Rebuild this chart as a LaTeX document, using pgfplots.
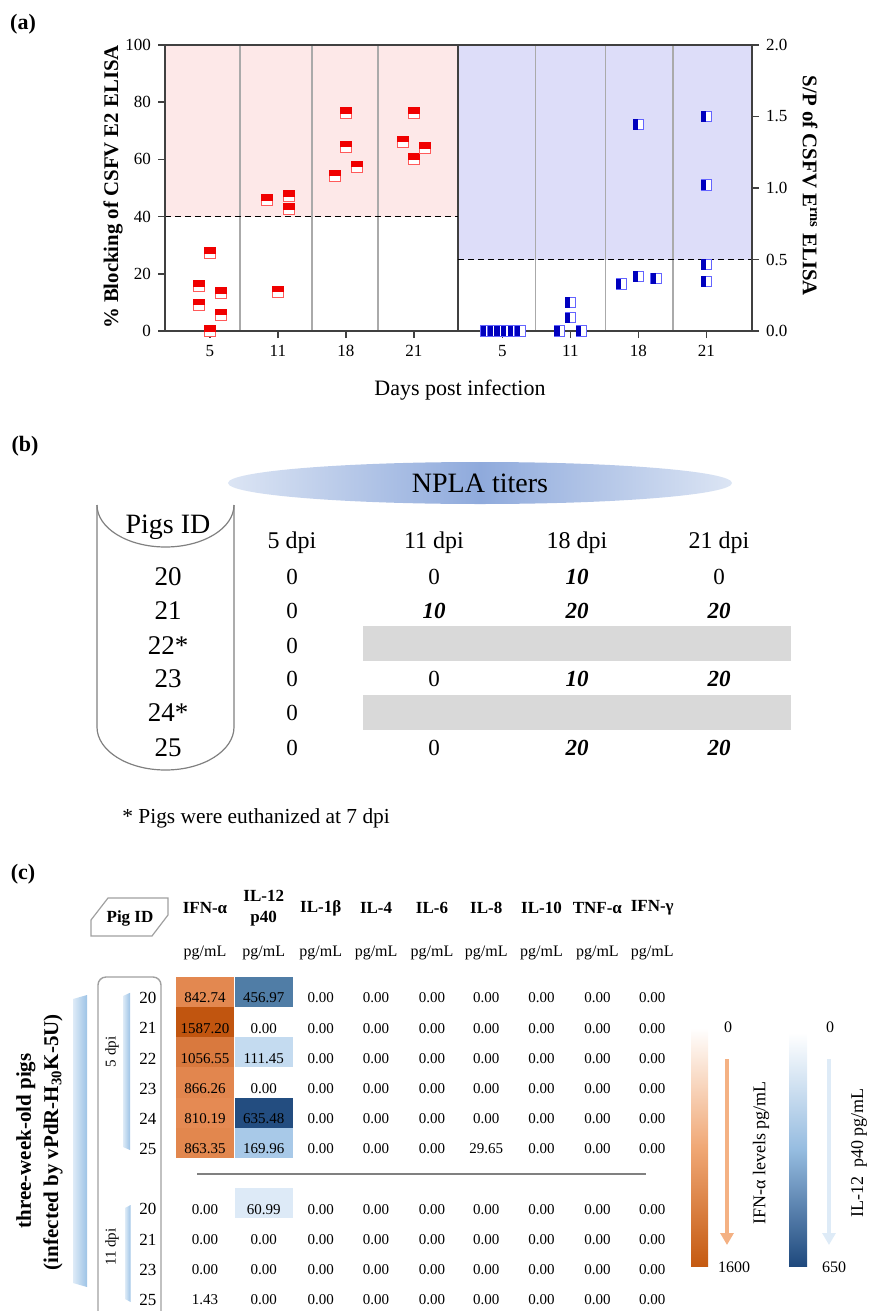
\documentclass[border=0pt]{standalone}
\usepackage{fontspec}
\setmainfont{Liberation Serif}
\usepackage{pgfplots}
\usepackage{pgfplotstable}
\pgfplotsset{compat=1.18}
\usetikzlibrary{arrows.meta}

\definecolor{pinkbg}{RGB}{253,232,232}
\definecolor{bluebg}{RGB}{221,221,249}
\definecolor{axgray}{RGB}{64,64,64}
\definecolor{sepgray}{RGB}{170,170,170}
\definecolor{redfill}{RGB}{240,0,0}
\definecolor{redline}{RGB}{255,90,90}
\definecolor{bluefill}{RGB}{0,0,190}
\definecolor{blueline}{RGB}{100,100,255}
\definecolor{bannerlight}{RGB}{220,229,244}
\definecolor{bannerdark}{RGB}{143,170,220}
\definecolor{misgray}{RGB}{217,217,217}
\definecolor{shapegray}{RGB}{128,128,128}
\definecolor{boxgray}{RGB}{160,160,160}
\definecolor{barlight}{RGB}{222,235,247}
\definecolor{bardark}{RGB}{157,195,230}
\definecolor{arroworange}{RGB}{244,177,131}
\definecolor{arrowblue}{RGB}{222,235,247}
\definecolor{cbomid}{RGB}{240,168,118}
\definecolor{cboend}{RGB}{197,90,17}
\definecolor{cbbmid}{RGB}{150,188,224}
\definecolor{cbbend}{RGB}{31,73,125}

% half filled square marks
\pgfdeclareplotmark{redhalf}{%
  \pgfsetfillcolor{white}\pgfsetstrokecolor{redline}%
  \pgfpathrectangle{\pgfqpoint{-\pgfplotmarksize}{-\pgfplotmarksize}}{\pgfqpoint{2\pgfplotmarksize}{2\pgfplotmarksize}}%
  \pgfusepathqfillstroke
  \pgfsetfillcolor{redfill}\pgfsetstrokecolor{redfill}%
  \pgfpathrectangle{\pgfqpoint{-\pgfplotmarksize}{0pt}}{\pgfqpoint{2\pgfplotmarksize}{\pgfplotmarksize}}%
  \pgfusepathqfillstroke
}
\pgfdeclareplotmark{bluehalf}{%
  \pgfsetfillcolor{white}\pgfsetstrokecolor{blueline}%
  \pgfpathrectangle{\pgfqpoint{-\pgfplotmarksize}{-\pgfplotmarksize}}{\pgfqpoint{2\pgfplotmarksize}{2\pgfplotmarksize}}%
  \pgfusepathqfillstroke
  \pgfsetfillcolor{bluefill}%
  \pgfpathrectangle{\pgfqpoint{-\pgfplotmarksize}{-\pgfplotmarksize}}{\pgfqpoint{\pgfplotmarksize}{2\pgfplotmarksize}}%
  \pgfusepathqfill
}
\pgfdeclareplotmark{cell}{%
  \pgfpathrectangle{\pgfqpoint{-14.5pt}{-7.6pt}}{\pgfqpoint{29pt}{15.2pt}}%
  \pgfusepathqfill
}

% E2 ELISA, % blocking
\pgfplotstableread{
x y
0 27.2
-0.16 15.7
-0.16 9.1
0.16 13.2
0.16 5.6
0 0
0.84 45.8
1.16 47.2
1.16 42.5
1 13.8
2 76.1
2 64.5
1.84 54.2
2.16 57.5
3 76.1
2.84 66.2
3 60.0
3.16 63.9
}\redtab

% Erns ELISA, S/P
\pgfplotstableread{
x y
4.06 0
4.16 0
4.26 0
4.36 0
4.46 0
4.56 0
5.3 0.20
5.3 0.093
5.14 0
5.46 0
6.3 1.445
6.05 0.33
6.3 0.38
6.56 0.366
7.3 1.50
7.3 1.02
7.3 0.466
7.3 0.345
}\bluetab

% cytokines, pg/mL
\pgfplotstableread{
row ID IFNa IL12 IL1b IL4 IL6 IL8 IL10 TNFa IFNg
0 20 842.74 456.97 0.00 0.00 0.00 0.00 0.00 0.00 0.00
1 21 1587.20 0.00 0.00 0.00 0.00 0.00 0.00 0.00 0.00
2 22 1056.55 111.45 0.00 0.00 0.00 0.00 0.00 0.00 0.00
3 23 866.26 0.00 0.00 0.00 0.00 0.00 0.00 0.00 0.00
4 24 810.19 635.48 0.00 0.00 0.00 0.00 0.00 0.00 0.00
5 25 863.35 169.96 0.00 0.00 0.00 29.65 0.00 0.00 0.00
7 20 0.00 60.99 0.00 0.00 0.00 0.00 0.00 0.00 0.00
8 21 0.00 0.00 0.00 0.00 0.00 0.00 0.00 0.00 0.00
9 23 0.00 0.00 0.00 0.00 0.00 0.00 0.00 0.00 0.00
10 25 1.43 0.00 0.00 0.00 0.00 0.00 0.00 0.00 0.00
}\cyto

\pgfplotsset{
  heatgrid/.style={
    at={(88.525pt,-488.45pt)}, anchor=north west,
    scale only axis, width=251.55pt, height=166.1pt,
    xmin=-0.5, xmax=8.5, ymin=-0.5, ymax=10.5, y dir=reverse,
    hide axis, clip=false,
  },
  celltext/.style={draw=none, mark=none, point meta=explicit symbolic,
    nodes near coords={\pgfplotspointmeta}, nodes near coords align={center},
    every node near coord/.append style={text=black, yshift=-3pt,
      font=\fontsize{7.5}{8}\selectfont}},
}

\begin{document}
\begin{tikzpicture}
\path[use as bounding box] (0,0) rectangle (434pt,-655.5pt);

% ---------------- (a)
\begin{axis}[
  at={(82.5pt,-165.5pt)}, anchor=south west,
  scale only axis, width=293.5pt, height=143pt,
  xmin=-0.66, xmax=7.97, ymin=0, ymax=100,
  xtick={0,1,2,3,4.3,5.3,6.3,7.3},
  xticklabels={5,11,18,21,5,11,18,21},
  ytick={0,20,40,60,80,100},
  xtick pos=bottom, ytick pos=left,
  tick align=outside, major tick length=3.5pt,
  axis line style={axgray, line width=0.8pt},
  every tick/.style={axgray, line width=0.8pt},
  tick label style={font=\fontsize{8.5}{9}\selectfont},
  /pgf/number format/assume math mode=true,
  axis on top, clip=false,
]
\fill[pinkbg] (axis cs:-0.66,40) rectangle (axis cs:3.65,100);
\fill[bluebg] (axis cs:3.65,25) rectangle (axis cs:7.97,100);
\pgfplotsinvokeforeach{0.44,1.5,2.47,4.79,5.82,6.81}{
  \draw[sepgray, line width=0.7pt] (axis cs:#1,0) -- (axis cs:#1,100);
}
\draw[axgray, line width=0.7pt] (axis cs:3.65,0) -- (axis cs:3.65,100);
\draw[densely dashed, line width=0.7pt] (axis cs:-0.66,40) -- (axis cs:3.65,40);
\draw[densely dashed, line width=0.7pt] (axis cs:3.65,25) -- (axis cs:7.97,25);
\addplot[only marks, mark=redhalf, mark size=2.75pt, line width=0.5pt] table {\redtab};
\end{axis}

\begin{axis}[
  at={(82.5pt,-165.5pt)}, anchor=south west,
  scale only axis, width=293.5pt, height=143pt,
  xmin=-0.66, xmax=7.97, ymin=0, ymax=2,
  axis x line=none, axis y line*=right, xtick=\empty,
  ytick={0,0.5,1,1.5,2},
  yticklabel style={/pgf/number format/.cd, fixed, fixed zerofill, precision=1, assume math mode=true},
  tick align=outside, major tick length=3.5pt,
  axis line style={axgray, line width=0.8pt},
  every tick/.style={axgray, line width=0.8pt},
  tick label style={font=\fontsize{8.5}{9}\selectfont},
  clip=false,
]
\addplot[only marks, mark=bluehalf, mark size=2.6pt, line width=0.45pt] table {\bluetab};
\end{axis}

% ---------------- (c) heat cells
\begin{axis}[heatgrid,
  colormap={bluemap}{rgb255(0pt)=(255,255,255); rgb255(9pt)=(222,235,247); rgb255(27pt)=(165,199,231); rgb255(70pt)=(80,126,166); rgb255(100pt)=(31,73,125)},
  point meta min=0, point meta max=650,
]
\addplot[scatter, only marks, mark=cell, point meta=\thisrow{IL12}] table[x expr=1.05, y=row] {\cyto};
\end{axis}

\begin{axis}[heatgrid,
  colormap={orangemap}{rgb255(0pt)=(255,255,255); rgb255(30pt)=(246,196,160); rgb255(50pt)=(229,139,84); rgb255(100pt)=(192,84,14)},
  point meta min=0, point meta max=1600,
]
\addplot[scatter, only marks, mark=cell, point meta=\thisrow{IFNa}] table[x expr=0, y=row] {\cyto};
\addplot[celltext, every node near coord/.append style={font=\fontsize{8.5}{9}\selectfont}] table[x expr=-1.02, y=row, meta=ID] {\cyto};
\addplot[celltext] table[x expr=0, y=row, meta=IFNa] {\cyto};
\addplot[celltext] table[x expr=1.05, y=row, meta=IL12] {\cyto};
\addplot[celltext] table[x expr=2.07, y=row, meta=IL1b] {\cyto};
\addplot[celltext] table[x expr=3.06, y=row, meta=IL4] {\cyto};
\addplot[celltext] table[x expr=4.06, y=row, meta=IL6] {\cyto};
\addplot[celltext] table[x expr=5.03, y=row, meta=IL8] {\cyto};
\addplot[celltext] table[x expr=6.02, y=row, meta=IL10] {\cyto};
\addplot[celltext] table[x expr=7.02, y=row, meta=TNFa] {\cyto};
\addplot[celltext] table[x expr=8, y=row, meta=IFNg] {\cyto};
\end{axis}

\begin{scope}[x=1pt, y=1pt]
% ---- (a) labels
\node[font=\bfseries\fontsize{11}{12}\selectfont] at (11.5,-12) {(a)};
\node[rotate=90, font=\bfseries\fontsize{10.4}{12}\selectfont] at (56.5,-93.5) {\% Blocking of CSFV E2 ELISA};
\node[rotate=-90, font=\bfseries\fontsize{10.4}{12}\selectfont] at (405,-93) {S/P of CSFV E\textsuperscript{rns} ELISA};
\node[font=\fontsize{11}{12}\selectfont] at (230,-195) {Days post infection};

% ---- (b)
\node[font=\bfseries\fontsize{11}{12}\selectfont] at (12.5,-223) {(b)};
\shade[left color=bannerlight, right color=bannerlight, middle color=bannerdark] (240,-241.5) ellipse [x radius=126, y radius=10.5];
\node[font=\fontsize{14}{16}\selectfont] at (240,-241.5) {NPLA titers};
\draw[shapegray, line width=0.6pt] (48.5,-252.5) arc[start angle=180, end angle=360, x radius=34.25, y radius=21];
\draw[shapegray, line width=0.6pt] (48.5,-252.5) -- (48.5,-363.5) arc[start angle=180, end angle=360, x radius=34.25, y radius=21.5] -- (117,-252.5);
\node[font=\fontsize{14}{16}\selectfont] at (84,-263.5) {Pigs ID};
\fill[misgray] (181.5,-313) rectangle (395.5,-330.5);
\fill[misgray] (181.5,-347.5) rectangle (395.5,-365);
\foreach \x/\t in {146/5 dpi, 217/11 dpi, 288.5/18 dpi, 359.5/21 dpi}
  \node[font=\fontsize{12}{14}\selectfont] at (\x,-271.5) {\t};
\foreach \y/\id in {-288.5/20, -305.5/21, -323/22*, -339.5/23, -356.5/24*, -374/25}{
  \node[font=\fontsize{13.5}{15}\selectfont] at (84,\y) {\id};
  \node[font=\fontsize{11.5}{13}\selectfont] at (146,\y) {0};
}
\begin{scope}[every node/.style={font=\fontsize{11.5}{13}\selectfont}]
\node at (217,-288.5) {0};
\node at (288.5,-288.5) {\textbf{\textit{10}}};
\node at (359.5,-288.5) {0};
\node at (217,-305.5) {\textbf{\textit{10}}};
\node at (288.5,-305.5) {\textbf{\textit{20}}};
\node at (359.5,-305.5) {\textbf{\textit{20}}};
\node at (217,-339.5) {0};
\node at (288.5,-339.5) {\textbf{\textit{10}}};
\node at (359.5,-339.5) {\textbf{\textit{20}}};
\node at (217,-374) {0};
\node at (288.5,-374) {\textbf{\textit{20}}};
\node at (359.5,-374) {\textbf{\textit{20}}};
\end{scope}
\node[anchor=west, inner sep=0pt, font=\fontsize{10.7}{12}\selectfont] at (61,-409) {* Pigs were euthanized at 7 dpi};

% ---- (c)
\node[font=\bfseries\fontsize{11}{12}\selectfont] at (11.5,-437) {(c)};
\draw[boxgray, line width=0.6pt] (45.5,-460) -- (54,-449) -- (84,-449) -- (84,-457.5) -- (76,-468) -- (45.5,-468) -- cycle;
\node[font=\bfseries\fontsize{8.5}{10}\selectfont] at (65,-459) {Pig ID};
\foreach \x/\t in {102.5/IFN-α, 160.35/IL-1β, 188.05/IL-4, 216/IL-6, 243.1/IL-8, 270.75/IL-10, 298.7/TNF-α, 326.1/IFN-γ}
  \node[font=\bfseries\fontsize{8.5}{10}\selectfont] at (\x,-454) {\t};
\node[align=center, font=\bfseries\fontsize{8.5}{10.5}\selectfont] at (131.85,-454) {IL-12\\p40};
\foreach \x in {102.5,131.85,160.35,188.05,216,243.1,270.75,298.7,326.1}
  \node[font=\fontsize{8}{9}\selectfont] at (\x,-476.5) {pg/mL};
\draw[boxgray, line width=0.7pt, rounded corners=4pt] (49,-488.5) rectangle (80.5,-664);
\shade[left color=barlight, right color=bardark] (61.5,-498) -- (65,-496.4) -- (65,-575) -- (61.5,-573.5) -- cycle;
\shade[left color=barlight, right color=bardark] (62.5,-604) -- (65.3,-602.5) -- (65.3,-651) -- (62.5,-649.5) -- cycle;
\shade[left color=barlight, right color=bardark] (36.5,-499.5) -- (43.5,-497.5) -- (43.5,-643.5) -- (36.5,-641.5) -- cycle;
\node[rotate=90, font=\fontsize{7.5}{9}\selectfont] at (56,-526) {5 dpi};
\node[rotate=90, font=\fontsize{7.5}{9}\selectfont] at (56,-623.5) {11 dpi};
\node[rotate=90, font=\bfseries\fontsize{10.5}{12}\selectfont] at (13,-570.5) {three-week-old pigs};
\node[rotate=90, font=\bfseries\fontsize{10.5}{12}\selectfont] at (26.5,-571) {(infected by vPdR-H\textsubscript{30}K-5U)};
\draw[shapegray, line width=0.8pt] (98.5,-587) -- (323,-587);
% colour keys
\shade[top color=white, bottom color=cboend, middle color=cbomid] (345.5,-514) rectangle (354,-633);
\shade[top color=white, bottom color=cbbend, middle color=cbbmid] (394.5,-516.5) rectangle (403.5,-633);
\node[font=\fontsize{8}{9}\selectfont] at (364,-513.5) {0};
\node[font=\fontsize{8}{9}\selectfont] at (367,-633.5) {1600};
\node[font=\fontsize{8}{9}\selectfont] at (415,-513.5) {0};
\node[font=\fontsize{8}{9}\selectfont] at (417,-633.5) {650};
\draw[arroworange, line width=2pt, -{Triangle[width=6.5pt,length=6pt]}] (363.5,-529.5) -- (363.5,-622.5);
\draw[arrowblue, line width=2pt, -{Triangle[width=6.5pt,length=6pt]}] (414.5,-529.5) -- (414.5,-622.5);
\node[rotate=90, font=\fontsize{9}{10}\selectfont] at (380.5,-576.5) {IFN-α levels pg/mL};
\node[rotate=90, font=\fontsize{9}{10}\selectfont] at (429.5,-576.5) {IL-12\ \ p40 pg/mL};
\end{scope}
\end{tikzpicture}
\end{document}
